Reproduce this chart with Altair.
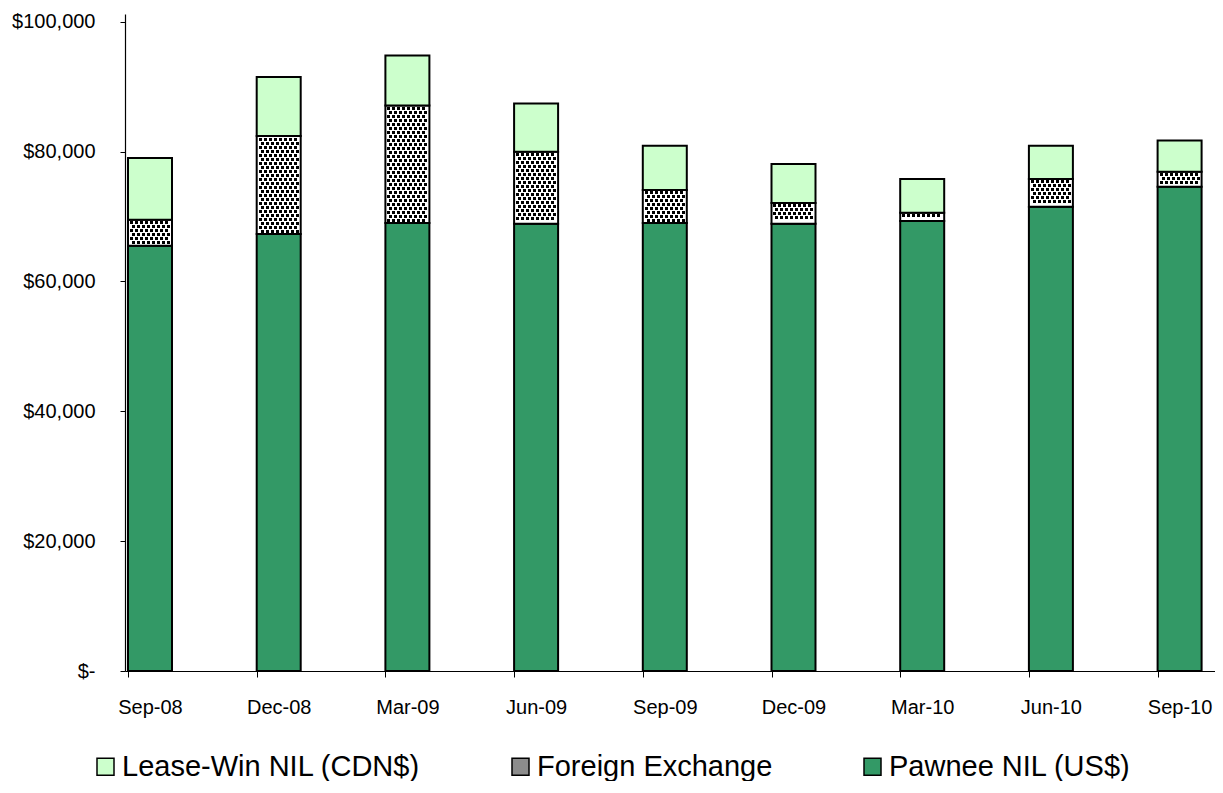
import altair as alt
import pandas as pd

# ---- data ----
months = ["Sep-08", "Dec-08", "Mar-09", "Jun-09", "Sep-09", "Dec-09", "Mar-10", "Jun-10", "Sep-10"]
pawnee = [65500, 67300, 69000, 68900, 69000, 68900, 69300, 71500, 74600]
fx = [4000, 15100, 18100, 11100, 5100, 3200, 1300, 4300, 2300]
lease = [9500, 9100, 7700, 7400, 6800, 6000, 5200, 5100, 4800]
series_names = ["Lease-Win NIL (CDN$)", "Foreign Exchange", "Pawnee NIL (US$)"]
series_colors = ["#CCFFCC", "#8c8c8c", "#339966"]
y_ticks = [0, 20000, 40000, 60000, 80000, 100000]

# ---- layout constants ----
W, H = 1090, 657
STEP_PX = 128.7
LEFT_PX = 25
HALF = 22 / STEP_PX          # half bar width in category units
X_DOM = [-LEFT_PX / STEP_PX, -LEFT_PX / STEP_PX + W / STEP_PX]
Y_DOM = [0, 101200]

rows = []
for i, m in enumerate(months):
    lo = 0
    for name, vals in [("Pawnee NIL (US$)", pawnee), ("Foreign Exchange", fx), ("Lease-Win NIL (CDN$)", lease)]:
        hi = lo + vals[i]
        rows.append({"i": i, "month": m, "series": name, "lo": lo, "hi": hi,
                     "x1": i - HALF, "x2": i + HALF})
        lo = hi
bars = pd.DataFrame(rows)

# dotted texture for the Foreign Exchange segments (3x3 px dots on a staggered grid)
kx = W / (X_DOM[1] - X_DOM[0])
ky = H / (Y_DOM[1] - Y_DOM[0])
dots = []
for i in range(len(months)):
    c = round(LEFT_PX + i * STEP_PX)
    py_lo = H - pawnee[i] * ky            # bottom edge of FX segment (pixels from top)
    py_hi = H - (pawnee[i] + fx[i]) * ky  # top edge
    top = int(py_hi) + 2
    r = 0
    while top + 3 <= py_lo - 1:
        lefts = range(-20, 16, 5) if r % 2 == 0 else range(-18, 18, 5)
        for lft in lefts:
            dots.append({"dx": (c + lft + 1.5) / kx + X_DOM[0], "dy": (H - (top + 1.5)) / ky})
        top += 4
        r += 1
dots_df = pd.DataFrame(dots)

label_map = "[" + ",".join("'%s'" % m for m in months) + "][datum.value]"

x_scale = alt.Scale(domain=X_DOM, nice=False, zero=False)
y_scale = alt.Scale(domain=Y_DOM, nice=False)

x_axis = alt.Axis(values=list(range(len(months))), labelExpr=label_map, title=None,
                  tickOffset=-22, labelOffset=22, tickSize=6, labelPadding=20,
                  labelFontSize=20, labelFont="Liberation Sans", labelColor="black",
                  domainColor="black", tickColor="black", domainWidth=1.2, grid=False,
                  labelAngle=0)
y_axis = alt.Axis(values=y_ticks, title=None, grid=False, tickSize=5, labelPadding=25,
                  labelExpr="datum.value == 0 ? '$-\u00a0\u00a0' : '$' + format(datum.value, ',')",
                  labelFontSize=20, labelFont="Liberation Sans", labelColor="black",
                  domainColor="black", tickColor="black", domainWidth=1.2)

bar_layer = alt.Chart(bars).mark_bar(stroke="black", strokeWidth=2, opacity=1).encode(
    x=alt.X("x1:Q", scale=x_scale, axis=x_axis),
    x2="x2:Q",
    y=alt.Y("lo:Q", scale=y_scale, axis=y_axis),
    y2="hi:Q",
    color=alt.when("datum.series === 'Foreign Exchange'").then(alt.value("white")).otherwise(
        alt.Color("series:N",
                  scale=alt.Scale(domain=series_names, range=series_colors),
                  legend=alt.Legend(title=None, orient="none", legendX=-34, legendY=738,
                                    direction="horizontal", columns=3, columnPadding=85,
                                    symbolType="square", symbolSize=289,
                                    symbolStrokeColor="black", symbolStrokeWidth=1.5,
                                    symbolOpacity=1, labelOffset=2,
                                    labelFontSize=29, labelFont="Liberation Sans",
                                    labelColor="black", labelLimit=400))),
)

dot_layer = alt.Chart(dots_df).mark_square(size=9, color="black", opacity=1, strokeWidth=0).encode(
    x=alt.X("dx:Q", scale=x_scale),
    y=alt.Y("dy:Q", scale=y_scale),
)

chart = alt.layer(bar_layer, dot_layer).properties(
    width=W, height=H,
    autosize=alt.AutoSizeParams(type="none"),
    padding={"left": 117, "top": 6, "right": 0, "bottom": 110},
).configure_view(stroke=None)

chart.save("out.html", embed_options={"renderer": "svg", "actions": False})
